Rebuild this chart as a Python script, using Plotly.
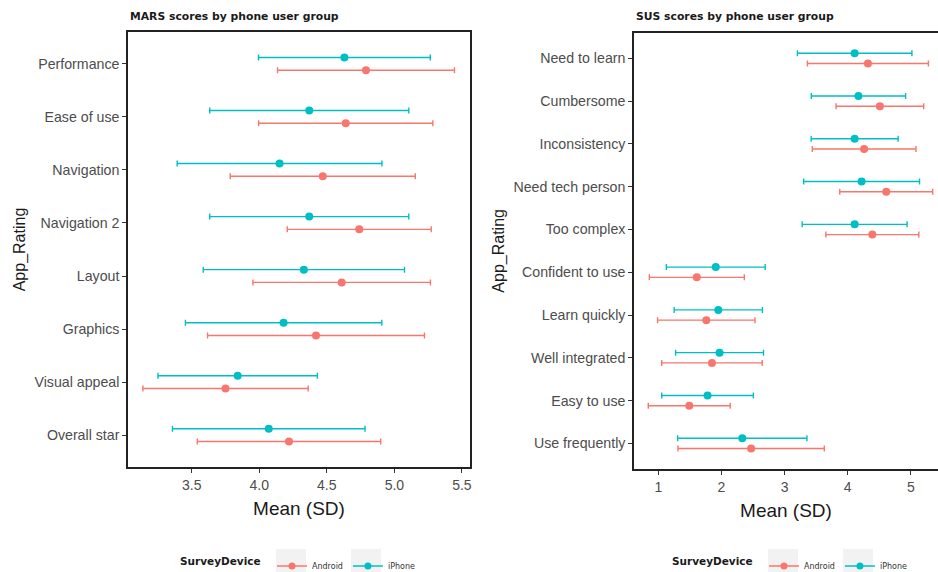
import plotly.graph_objects as go

# ---------------- data ----------------
mars_items = ["Performance", "Ease of use", "Navigation", "Navigation 2",
              "Layout", "Graphics", "Visual appeal", "Overall star"]
mars_android_mean = [4.79, 4.64, 4.47, 4.74, 4.61, 4.42, 3.75, 4.22]
mars_android_sd = [0.655, 0.645, 0.685, 0.533, 0.657, 0.803, 0.612, 0.679]
mars_iphone_mean = [4.63, 4.37, 4.15, 4.37, 4.33, 4.18, 3.84, 4.07]
mars_iphone_sd = [0.636, 0.737, 0.758, 0.737, 0.745, 0.727, 0.590, 0.713]

sus_items = ["Need to learn", "Cumbersome", "Inconsistency", "Need tech person",
             "Too complex", "Confident to use", "Learn quickly", "Well integrated",
             "Easy to use", "Use frequently"]
sus_android_mean = [4.32, 4.51, 4.26, 4.61, 4.39, 1.61, 1.76, 1.85, 1.49, 2.47]
sus_android_sd = [0.958, 0.694, 0.821, 0.736, 0.736, 0.752, 0.772, 0.796, 0.649, 1.159]
sus_iphone_mean = [4.11, 4.17, 4.11, 4.22, 4.11, 1.91, 1.95, 1.97, 1.78, 2.33]
sus_iphone_sd = [0.907, 0.747, 0.689, 0.918, 0.831, 0.783, 0.699, 0.696, 0.726, 1.024]

mars_ticks = [3.5, 4.0, 4.5, 5.0, 5.5]
sus_ticks = [1, 2, 3, 4, 5]

groups = ["Android", "iPhone"]
colors = {"Android": "#F8766D", "iPhone": "#00BFC4"}
dodge = {"Android": 0.12, "iPhone": -0.12}

W, H = 938, 572
fig = go.Figure()


def add_panel(items, means, sds, xa, ya, legend):
    for g in groups:
        ys = [i + dodge[g] for i in range(len(items))]
        fig.add_trace(go.Scatter(
            x=means[g], y=ys, mode="markers", xaxis=xa, yaxis=ya,
            marker=dict(color=colors[g], size=8),
            error_x=dict(type="data", array=sds[g], symmetric=True,
                         color=colors[g], thickness=1.4, width=3),
            showlegend=False, hoverinfo="x+y", name=g))
    for g in groups:
        fig.add_trace(go.Scatter(
            x=[None], y=[None], mode="lines+markers", xaxis=xa, yaxis=ya,
            line=dict(color=colors[g], width=1.5),
            marker=dict(color=colors[g], size=7),
            name=g, legend=legend, showlegend=True))


add_panel(mars_items,
          {"Android": mars_android_mean, "iPhone": mars_iphone_mean},
          {"Android": mars_android_sd, "iPhone": mars_iphone_sd},
          "x", "y", "legend")
add_panel(sus_items,
          {"Android": sus_android_mean, "iPhone": sus_iphone_mean},
          {"Android": sus_android_sd, "iPhone": sus_iphone_sd},
          "x2", "y2", "legend2")

xtickfont = dict(family="Liberation Sans, Arial, sans-serif", size=14, color="#4D4D4D")
ytickfont = dict(family="Liberation Sans, Arial, sans-serif", size=14.2, color="#4D4D4D")
titlefont = dict(family="Liberation Sans, Arial, sans-serif", size=19, color="#1A1A1A")
ytitlefont = dict(family="Liberation Sans, Arial, sans-serif", size=16, color="#1A1A1A")

axis_common = dict(showline=True, mirror=True, linecolor="#222222", linewidth=1.5,
                   showgrid=False, zeroline=False, ticks="outside", ticklen=4,
                   tickcolor="#333333", tickwidth=1, automargin=False)


def ydom(top_px, bot_px):
    return [(H - bot_px) / H, (H - top_px) / H]


legend_common = dict(
    orientation="h", yanchor="middle", y=(H - 566) / H,
    title=dict(text="<b>SurveyDevice</b> ", side="left",
               font=dict(family="DejaVu Sans, sans-serif", size=10.5, color="#1A1A1A")),
    font=dict(family="DejaVu Sans, sans-serif", size=8, color="#333333"),
    bgcolor="rgba(0,0,0,0)", itemwidth=30, tracegroupgap=0, xanchor="left")

# light grey legend key backgrounds (ggplot style)
key_shapes = []
for x0 in (276, 351, 768, 843):
    key_shapes.append(dict(type="rect", xref="paper", yref="paper",
                           x0=x0 / W, x1=(x0 + 30) / W, y0=0, y1=(H - 549) / H,
                           fillcolor="#F2F2F2", line=dict(width=0), layer="below"))

fig.update_layout(
    width=W, height=H, margin=dict(l=0, r=0, t=0, b=0, autoexpand=False),
    plot_bgcolor="white", paper_bgcolor="white",
    xaxis=dict(domain=[128 / W, 470 / W], range=[3.028, 5.56],
               tickvals=mars_ticks, ticktext=[f"{v:.1f}" for v in mars_ticks],
               title=dict(text="Mean (SD)", font=titlefont, standoff=10),
               anchor="y", tickfont=xtickfont, **axis_common),
    yaxis=dict(domain=ydom(32, 467), range=[len(mars_items) - 0.4, -0.6],
               tickvals=list(range(len(mars_items))), ticktext=mars_items,
               title=dict(text="App_Rating", font=ytitlefont, standoff=5),
               anchor="x", tickfont=ytickfont, **axis_common),
    xaxis2=dict(domain=[634 / W, 1.0], range=[0.615, 5.43],
                tickvals=sus_ticks, ticktext=[str(v) for v in sus_ticks],
                title=dict(text="Mean (SD)", font=titlefont, standoff=10),
                anchor="y2", tickfont=xtickfont, **axis_common),
    yaxis2=dict(domain=ydom(32.7, 469), range=[len(sus_items) - 0.4, -0.6],
                tickvals=list(range(len(sus_items))), ticktext=sus_items,
                title=dict(text="App_Rating", font=ytitlefont, standoff=5),
                anchor="x2", tickfont=ytickfont, **axis_common),
    legend=dict(x=178 / W, **legend_common),
    legend2=dict(x=670 / W, **legend_common),
    shapes=key_shapes,
    annotations=[
        dict(text="<b>MARS scores by phone user group</b>", x=128 / W, y=(H - 16) / H,
             xref="paper", yref="paper", xanchor="left", yanchor="middle", showarrow=False,
             font=dict(family="DejaVu Sans, sans-serif", size=10.8, color="#1A1A1A")),
        dict(text="<b>SUS scores by phone user group</b>", x=634 / W, y=(H - 16) / H,
             xref="paper", yref="paper", xanchor="left", yanchor="middle", showarrow=False,
             font=dict(family="DejaVu Sans, sans-serif", size=10.8, color="#1A1A1A")),
    ],
)

fig.write_html("out.html", config={"displayModeBar": False},
               post_script="document.body.style.margin='0px';document.body.style.overflow='hidden';")
